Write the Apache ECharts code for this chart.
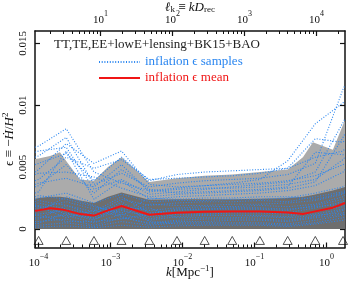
<!DOCTYPE html>
<html><head><meta charset="utf-8">
<script src="https://cdn.jsdelivr.net/npm/echarts@6/dist/echarts.min.js"></script>
<style>html,body{margin:0;padding:0;background:#fff}#c{width:349px;height:283px}</style>
</head><body><div id="c"></div>
<script>
// ---- data (epsilon values in units of 1e-3) ----
const kMin = 8.91e-5, kMax = 1.81;         // Mpc^-1, plotted k range
const logDrec = 4.14;                       // log10 D_rec [Mpc], ell_k = k D_rec
const knotK = [1.0e-4, 2.42e-4, 5.88e-4, 1.42e-3, 3.45e-3, 8.37e-3, 2.03e-2, 4.91e-2, 0.119, 0.289, 0.700, 1.70];
const knotLevel = -0.93;                    // marker row below zero
const bandK = [8.91e-5, 1.0e-4, 1.44e-4, 1.98e-4, 2.42e-4, 3.76e-4, 5.88e-4, 9.2e-4, 1.42e-3, 3.45e-3, 8.37e-3, 2.03e-2, 4.91e-2, 0.119, 0.289, 0.471, 0.648, 1.228, 1.81];
const upper95 = [5.65, 5.7, 5.9, 6.2, 5.5, 4.0, 3.9, 5.0, 5.8, 3.8, 4.1, 4.3, 4.4, 4.6, 4.8, 5.8, 7.0, 6.4, 8.8];
const upper68 = [2.45, 2.5, 2.6, 2.6, 2.55, 2.3, 2.1, 2.6, 2.95, 2.35, 2.4, 2.4, 2.4, 2.45, 2.5, 2.6, 2.75, 3.1, 3.4];
const meanEps = [1.48, 1.5, 1.67, 1.6, 1.5, 1.2, 1.08, 1.5, 1.85, 1.15, 1.3, 1.38, 1.4, 1.4, 1.33, 1.2, 1.38, 1.72, 2.1];
const sampleK = [8.91e-5, 1.0e-4, 2.42e-4, 5.88e-4, 1.42e-3, 3.45e-3, 8.37e-3, 2.03e-2, 4.91e-2, 0.119, 0.289, 0.700, 1.70, 1.81];
const sampleCurves = [
  [6.6, 6.7, 8.1, 4.6, 3.7, 3.1, 3.3, 3.5, 3.6, 3.7, 3.9, 4.3, 5.2, 5.3],
  [5.8, 5.9, 7.4, 3.6, 4.5, 3.4, 3.7, 3.9, 4.0, 4.1, 4.4, 5.3, 11.3, 11.6],
  [4.6, 4.8, 6.9, 5.3, 6.3, 3.6, 3.4, 3.5, 3.7, 4.0, 5.5, 8.5, 10.2, 10.3],
  [3.9, 4.0, 5.8, 4.9, 5.6, 4.0, 4.1, 4.2, 4.3, 4.5, 4.9, 7.3, 7.0, 7.2],
  [6.2, 6.3, 6.6, 3.2, 4.0, 2.8, 3.0, 3.2, 3.4, 3.6, 3.8, 4.6, 8.6, 8.9],
  [5.2, 5.3, 6.1, 3.9, 5.8, 3.9, 4.4, 4.6, 4.7, 4.8, 4.9, 5.8, 6.3, 6.5],
  [3.4, 3.5, 5.2, 2.9, 4.8, 3.2, 2.9, 3.0, 3.1, 3.2, 3.4, 6.2, 6.0, 6.1],
  [4.4, 4.5, 4.6, 4.2, 3.3, 2.6, 2.8, 2.9, 3.0, 3.1, 3.3, 3.8, 7.4, 7.7],
  [2.9, 3.0, 6.3, 2.4, 3.9, 2.4, 2.6, 2.7, 2.8, 2.9, 3.1, 3.5, 4.6, 4.8],
  [3.6, 3.7, 4.1, 3.4, 5.2, 3.0, 3.2, 3.3, 3.3, 3.4, 3.6, 4.0, 5.6, 5.8],
  [2.4, 2.5, 2.9, 2.1, 2.8, 2.2, 2.3, 2.3, 2.4, 2.4, 2.5, 2.9, 3.4, 3.5],
  [2.0, 2.1, 1.6, 1.2, 2.4, 1.9, 2.1, 2.2, 2.2, 2.3, 2.2, 2.6, 3.0, 3.1],
  [1.6, 1.7, 2.2, 1.6, 1.8, 1.5, 1.7, 1.8, 1.8, 1.9, 1.8, 2.0, 2.6, 2.7],
  [1.2, 1.2, 1.5, 0.8, 1.5, 1.0, 1.3, 1.4, 1.4, 1.4, 1.3, 1.7, 2.2, 2.3],
  [0.9, 0.9, 1.1, 0.5, 1.2, 0.7, 1.0, 1.1, 1.1, 1.1, 1.0, 1.4, 1.8, 1.9],
  [0.6, 0.6, 0.8, 0.3, 0.9, 0.5, 0.7, 0.8, 0.8, 0.8, 0.7, 1.0, 1.5, 1.6],
  [0.3, 0.3, 0.5, 0.2, 0.6, 0.3, 0.5, 0.5, 0.5, 0.5, 0.4, 0.7, 1.1, 1.2],
  [0.15, 0.15, 0.25, 0.1, 0.3, 0.15, 0.25, 0.3, 0.3, 0.3, 0.2, 0.4, 0.7, 0.8],
  [2.2, 2.3, 1.9, 1.4, 2.6, 1.3, 1.5, 1.6, 1.6, 1.6, 1.5, 1.9, 2.4, 2.5],
  [1.4, 1.4, 2.6, 1.9, 1.1, 2.0, 1.9, 1.9, 2.0, 2.0, 2.1, 2.3, 2.8, 2.9],
  [1.9, 1.9, 1.2, 0.9, 2.2, 0.8, 1.2, 1.2, 1.3, 1.3, 1.2, 1.2, 1.6, 1.7],
  [0.8, 0.8, 1.9, 1.1, 1.6, 1.7, 0.9, 0.9, 0.9, 1.0, 0.9, 1.1, 1.3, 1.4],
  [1.1, 1.1, 0.6, 0.6, 0.8, 1.2, 1.6, 1.6, 1.7, 1.7, 1.6, 1.8, 2.0, 2.1],
  [0.45, 0.45, 1.3, 0.7, 2.0, 0.6, 0.4, 0.4, 0.4, 0.4, 0.3, 0.5, 0.9, 1.0],
  [2.6, 2.7, 2.4, 1.8, 1.3, 2.5, 2.4, 2.5, 2.5, 2.6, 2.6, 2.4, 2.9, 3.0],
  [1.8, 1.8, 0.9, 1.5, 1.0, 0.4, 0.6, 0.6, 0.7, 0.7, 0.6, 0.9, 1.2, 1.3]
];
const kTickExp = [-4, -3, -2, -1, 0];
const ellTickExp = [1, 2, 3, 4];
const yTicks = [0, 5, 10, 15];
const yMin = -1.5, yMax = 16;
const annotation = 'TT,TE,EE+lowE+lensing+BK15+BAO';
const sampleName = 'inflation ϵ samples';
const meanName = 'inflation ϵ mean';

// ---- styling ----
const SERIF = "'Liberation Serif','DejaVu Serif',serif";
const BLUE = '#2a86f0', RED = '#f01515', INK = '#111';
const lg = Math.log10;
const xMinL = lg(kMin), xMaxL = lg(kMax);

function minorLogs(lo, hi) {
  const out = [];
  for (let n = Math.floor(lo) - 1; n <= Math.ceil(hi); n++)
    for (let m = 2; m <= 9; m++) { const v = n + lg(m); if (v > lo && v < hi) out.push(v); }
  return out;
}
const supRich = {
  b: {fontFamily: SERIF, fontSize: 11, color: INK, lineHeight: 16, verticalAlign: 'bottom'},
  s: {fontFamily: SERIF, fontSize: 8, color: INK, lineHeight: 9, verticalAlign: 'top'}
};
const powLabel = v => { const e = Math.round(v); return '{b|10}{s|' + (e < 0 ? '−' + (-e) : e) + '}'; };
const pairs = (ks, vs) => ks.map((k, i) => [lg(k), vs[i]]);
const axLine = {show: true, onZero: false, lineStyle: {color: INK, width: 1.5}};
const nameRich = {
  n: {fontFamily: SERIF, fontSize: 13, color: INK, lineHeight: 15, verticalAlign: 'bottom'},
  i: {fontFamily: SERIF, fontSize: 13, fontStyle: 'italic', color: INK, lineHeight: 15, verticalAlign: 'bottom'},
  s: {fontFamily: SERIF, fontSize: 9, color: INK, lineHeight: 9, verticalAlign: 'top'},
  d: {fontFamily: SERIF, fontSize: 9, color: INK, lineHeight: 12, verticalAlign: 'bottom'}
};

function xAxisMajor(pos, lo, hi, exps, name, nameGap) {
  return {
    type: 'value', position: pos, min: lo, max: hi, gridIndex: 0,
    axisLine: axLine, splitLine: {show: false},
    axisTick: {show: true, inside: true, length: 5, lineStyle: {color: INK, width: 1.2}, customValues: exps},
    axisLabel: {show: true, customValues: exps, formatter: powLabel, margin: 5, rich: supRich},
    name: name, nameLocation: 'middle', nameGap: nameGap, nameMoveOverlap: false,
    nameTextStyle: {rich: nameRich}
  };
}
function xAxisMinor(pos, lo, hi) {
  return {
    type: 'value', position: pos, min: lo, max: hi, gridIndex: 0,
    axisLine: {show: false, onZero: false}, splitLine: {show: false}, axisLabel: {show: false},
    axisTick: {show: true, inside: true, length: 3, lineStyle: {color: INK, width: 1}, customValues: minorLogs(lo, hi)}
  };
}

const series = [
  {type: 'line', data: pairs(bandK, upper95), symbol: 'none', silent: true,
   lineStyle: {width: 0}, areaStyle: {color: '#ababab', opacity: 1}, z: 1},
  {type: 'line', data: pairs(bandK, upper68), symbol: 'none', silent: true,
   lineStyle: {width: 0}, areaStyle: {color: '#6e6e6e', opacity: 1}, z: 1}
];
sampleCurves.forEach(c => series.push({
  type: 'line', name: sampleName, data: pairs(sampleK, c), symbol: 'none', silent: true,
  lineStyle: {color: BLUE, width: 1.1, type: [1, 1.7]}, itemStyle: {color: BLUE}, z: 2
}));
series.push({type: 'line', name: meanName, data: pairs(bandK, meanEps), symbol: 'none', silent: true,
  lineStyle: {color: RED, width: 2}, itemStyle: {color: RED}, z: 3});
series.push({type: 'scatter', data: knotK.map(k => [lg(k), knotLevel]), symbol: 'triangle', symbolSize: [9, 8],
  silent: true, itemStyle: {color: 'rgba(0,0,0,0)', borderColor: INK, borderWidth: 0.9}, z: 4});

const option = {
  animation: false,
  backgroundColor: '#fff',
  grid: {left: 35, right: 4, top: 31, bottom: 35.5, containLabel: false, outerBoundsMode: 'none'},
  title: {text: annotation, left: 54, top: 38.5, padding: 0,
    textStyle: {fontFamily: SERIF, fontSize: 13, fontWeight: 'normal', color: '#222'}},
  legend: {
    data: [
      {name: sampleName, textStyle: {color: BLUE}, itemStyle: {opacity: 0}},
      {name: meanName, textStyle: {color: RED}, itemStyle: {opacity: 0}}
    ],
    orient: 'vertical', left: 98, top: 55.5, padding: 0, itemGap: 3,
    itemWidth: 41, itemHeight: 14, selectedMode: false,
    textStyle: {fontFamily: SERIF, fontSize: 13}
  },
  xAxis: [
    xAxisMajor('bottom', xMinL, xMaxL, kTickExp, '{i|k}{n|[Mpc}{s|−1}{n|]}', 17),
    xAxisMinor('bottom', xMinL, xMaxL),
    xAxisMajor('top', xMinL + logDrec, xMaxL + logDrec, ellTickExp, '{i|ℓ}{d|k}{n| ≡ }{i|kD}{d|rec}', 17),
    xAxisMinor('top', xMinL + logDrec, xMaxL + logDrec)
  ],
  yAxis: [
    {type: 'value', position: 'left', min: yMin, max: yMax,
     axisLine: axLine, splitLine: {show: false},
     axisTick: {show: true, inside: true, length: 5, lineStyle: {color: INK, width: 1.2}, customValues: yTicks},
     axisLabel: {show: true, customValues: yTicks, rotate: 90, margin: 6,
       formatter: v => v === 0 ? '0' : String(+(v / 1000).toFixed(4)),
       fontFamily: SERIF, fontSize: 11, color: INK},
     name: '{n|ϵ ≡ −}{i|Ḣ}{n|/}{i|H}{s|2}', nameLocation: 'middle', nameGap: 19, nameRotate: 90,
     nameMoveOverlap: false, nameTextStyle: {rich: nameRich}},
    {type: 'value', position: 'right', min: yMin, max: yMax,
     axisLine: axLine, splitLine: {show: false}, axisLabel: {show: false},
     axisTick: {show: true, inside: true, length: 5, lineStyle: {color: INK, width: 1.2}, customValues: yTicks}}
  ],
  series: series
};
const chart = echarts.init(document.getElementById('c'), null, {renderer: 'canvas'});
chart.setOption(option);
</script></body></html>
